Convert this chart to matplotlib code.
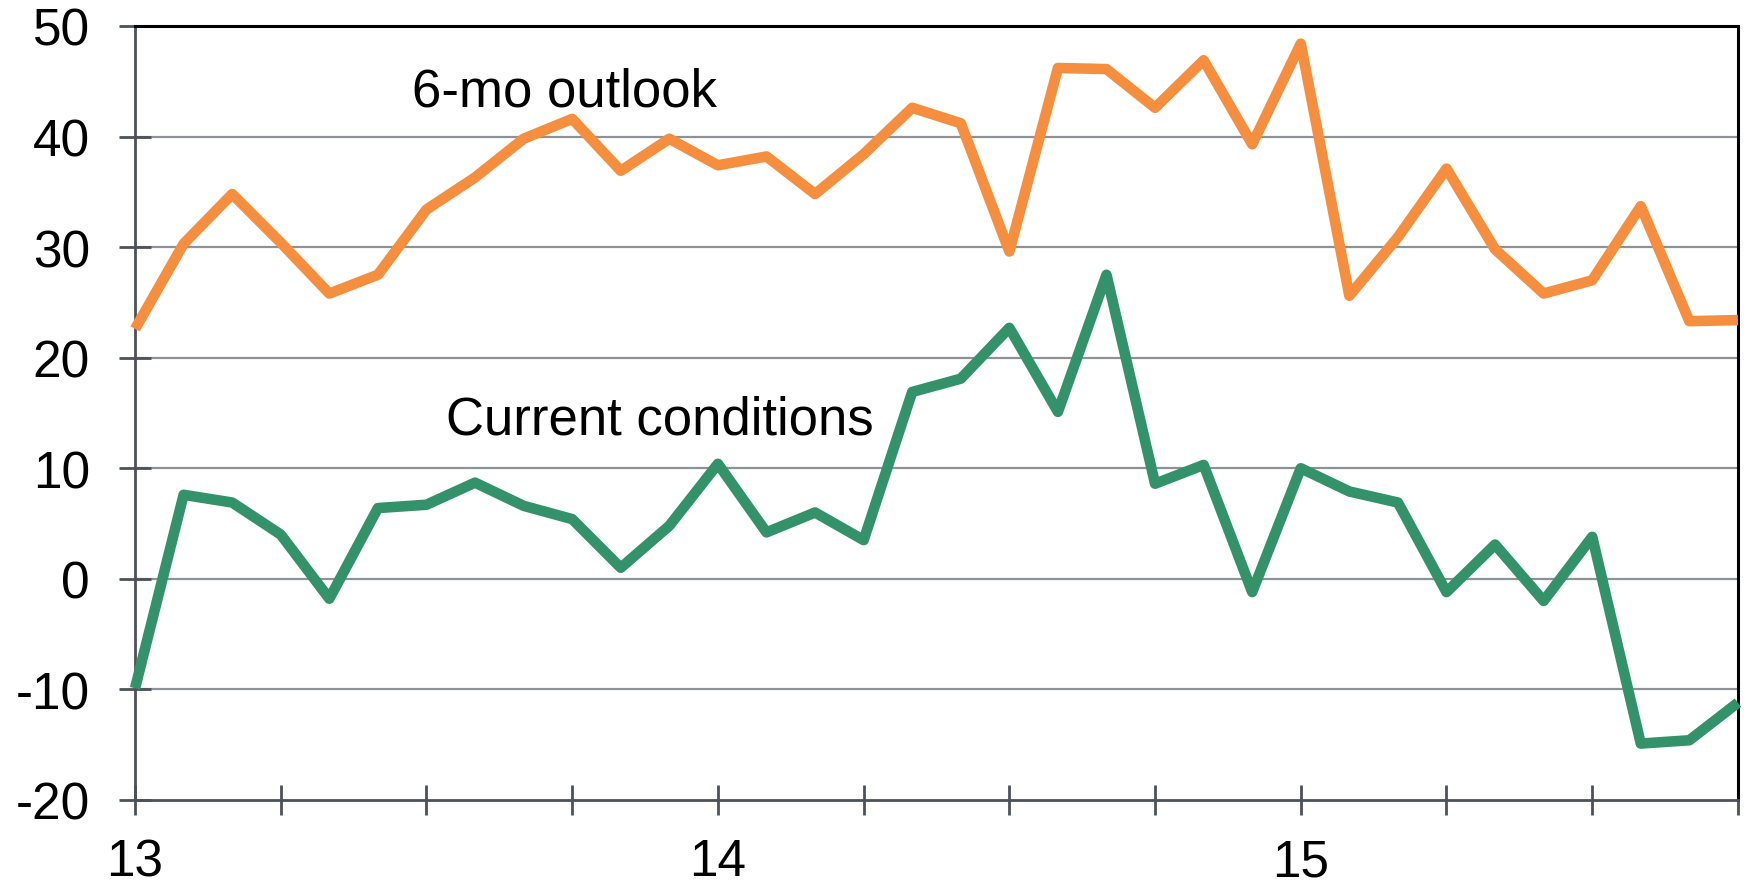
import matplotlib.pyplot as plt
import numpy as np

plt.rcParams['font.family'] = ['Liberation Sans', 'DejaVu Sans']

# monthly, Jan 2013 .. Oct 2015
months = np.arange(34)
outlook = [22.6, 30.3, 34.8, 30.4, 25.8, 27.5, 33.4, 36.3, 39.8, 41.6,
           36.9, 39.8, 37.4, 38.2, 34.8, 38.4, 42.6, 41.2, 29.6, 46.2,
           46.1, 42.6, 46.9, 39.3, 48.4, 25.6, 30.9, 37.1, 29.8, 25.8,
           27.0, 33.7, 23.3, 23.4]
current = [-9.9, 7.6, 6.9, 4.0, -1.8, 6.4, 6.7, 8.7, 6.6, 5.4,
           1.0, 4.8, 10.4, 4.2, 6.0, 3.5, 16.9, 18.1, 22.7, 15.1,
           27.5, 8.6, 10.3, -1.2, 10.0, 7.9, 6.9, -1.2, 3.1, -2.0,
           3.8, -14.9, -14.6, -11.2]
year_ticks = [0, 12, 24]
year_labels = ['13', '14', '15']

fig = plt.figure(figsize=(17.47, 8.87), dpi=100)
ax = fig.add_axes([0.0773, 0.097, 0.9175, 0.8726])

ax.set_xlim(0, 33)
ax.set_ylim(-20, 50)

for y in range(-10, 50, 10):
    ax.axhline(y, color='#8e9297', lw=1.6, zorder=1)

ax.plot(months, outlook, color='#f58e3e', lw=7.6, solid_joinstyle='round',
        solid_capstyle='butt', zorder=3, clip_on=False)
ax.plot(months, current, color='#33926a', lw=7.6, solid_joinstyle='round',
        solid_capstyle='butt', zorder=3, clip_on=False)

ax.text(8.85, 42.8, '6-mo outlook', fontsize=38, ha='center', va='baseline')
ax.text(10.8, 13.1, 'Current conditions', fontsize=38, ha='center',
        va='baseline')

ax.set_yticks(range(-20, 51, 10))
ax.set_yticklabels([str(v) for v in range(-20, 51, 10)])
ax.set_xticks(range(0, 34, 3))
ax.set_xticklabels([year_labels[year_ticks.index(t)] if t in year_ticks else ''
                    for t in range(0, 34, 3)])

ax.tick_params(axis='y', direction='inout', length=23, width=2.0,
               color='#4d5258', labelsize=37, pad=21)
ax.tick_params(axis='x', direction='inout', length=22, width=2.0,
               color='#4d5258', labelsize=37, pad=16)

for s in ['left', 'bottom']:
    ax.spines[s].set_color('#4d5258')
    ax.spines[s].set_linewidth(2.0)
for s in ['top', 'right']:
    ax.spines[s].set_color('black')
    ax.spines[s].set_linewidth(2.2)

fig.savefig('out.png', dpi=100)
